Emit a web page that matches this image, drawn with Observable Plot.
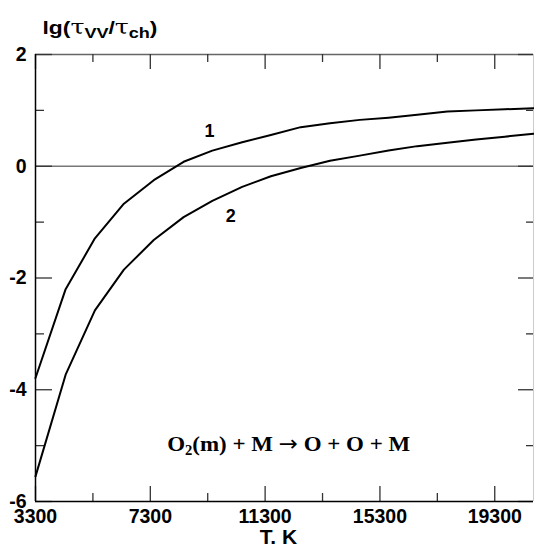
<!DOCTYPE html>
<html><head><meta charset="utf-8">
<script src="https://cdn.jsdelivr.net/npm/d3@7"></script>
<script src="https://cdn.jsdelivr.net/npm/@observablehq/plot@0.6"></script>
<style>
body{margin:0;background:#fff;}
</style></head><body><div id="wrap"></div>
<script>
const temperature = [3300, 4350, 5370, 6380, 7420, 8460, 9460, 10500, 11500, 12540, 13560, 14600, 15600, 16600, 17650, 18650, 19650, 20650];
const curve1 = [-3.79, -2.20, -1.29, -0.67, -0.25, 0.08, 0.28, 0.43, 0.56, 0.70, 0.77, 0.83, 0.87, 0.92, 0.98, 1.00, 1.02, 1.04];
const curve2 = [-5.55, -3.73, -2.58, -1.85, -1.32, -0.91, -0.62, -0.37, -0.18, -0.03, 0.10, 0.19, 0.28, 0.36, 0.42, 0.48, 0.53, 0.58];
const xMajorTicks = [3300, 7300, 11300, 15300, 19300];
const xMinorTicks = [5300, 9300, 13300, 17300];
const yMajorTicks = [-6, -4, -2, 0, 2];
const yMinorTicks = [-5, -3, -1, 1];
const xDomain = [3300, 20650];
const yDomain = [-6, 2];
const curveLabels = [{label: "1", x: 9365, y: 0.635}, {label: "2", x: 10100, y: -0.894}];
const reactionText = "O₂(m) + M → O + O + M";
const reaction = [{text: reactionText, x: 12120, y: -5.10}];
const yTitle = "lg(τVV/τch)";
const xLabel = "T. K";

const data = temperature.flatMap((t, i) => [{t, v: curve1[i], s: "1"}, {t, v: curve2[i], s: "2"}]);
const fmt = d => String(d);
const tickStyle = {stroke: "#333", strokeWidth: 1.3};
const plot = Plot.plot({
  width: 534, height: 548,
  marginLeft: 35, marginRight: 1, marginTop: 54, marginBottom: 47,
  x: {domain: xDomain},
  y: {domain: yDomain},
  style: {fontFamily: '"Liberation Sans", Arial, sans-serif', fontWeight: "bold", background: "#fff", color: "#000"},
  marks: [
    Plot.ruleY([0], {stroke: "#777", strokeWidth: 1.5}),
    Plot.ruleY([yDomain[1]], {stroke: "#666", strokeWidth: 1.3}),
    Plot.ruleX([xDomain[1]], {stroke: "#ccc", strokeWidth: 1}),
    // inward ticks
    Plot.ruleX(xMajorTicks, {x: d => d, y1: yDomain[0], y2: yDomain[0], insetTop: -15, ...tickStyle}),
    Plot.ruleX(xMinorTicks, {x: d => d, y1: yDomain[0], y2: yDomain[0], insetTop: -8, ...tickStyle}),
    Plot.ruleX(xMajorTicks, {x: d => d, y1: yDomain[1], y2: yDomain[1], insetBottom: -15, ...tickStyle}),
    Plot.ruleX(xMinorTicks, {x: d => d, y1: yDomain[1], y2: yDomain[1], insetBottom: -8, ...tickStyle}),
    Plot.ruleY(yMajorTicks, {y: d => d, x1: xDomain[0], x2: xDomain[0], insetRight: -17, ...tickStyle}),
    Plot.ruleY(yMinorTicks, {y: d => d, x1: xDomain[0], x2: xDomain[0], insetRight: -9, ...tickStyle}),
    Plot.ruleY(yMajorTicks, {y: d => d, x1: xDomain[1], x2: xDomain[1], insetLeft: -15, ...tickStyle}),
    Plot.ruleY(yMinorTicks, {y: d => d, x1: xDomain[1], x2: xDomain[1], insetLeft: -7, ...tickStyle}),
    Plot.axisX(xMajorTicks, {anchor: "bottom", tickSize: 0, tickPadding: 8, fontSize: 19.5, tickFormat: fmt, fill: "#000", label: null}),
    Plot.axisY(yMajorTicks, {anchor: "left", tickSize: 0, tickPadding: 9, fontSize: 19.5, tickFormat: fmt, fill: "#000", label: null}),
    Plot.ruleX([xDomain[0]], {stroke: "#000", strokeWidth: 1.5}),
    Plot.ruleY([yDomain[0]], {stroke: "#000", strokeWidth: 1.5}),
    Plot.line(data, {x: "t", y: "v", z: "s", stroke: "#000", strokeWidth: 2}),
    Plot.text(curveLabels, {x: "x", y: "y", text: "label", fontSize: 18, fontWeight: "bold", fill: "#000"}),
    Plot.text(reaction, {x: "x", y: "y", text: "text", lineAnchor: "bottom", fontSize: 22, fontWeight: "bold", fontFamily: '"Liberation Serif", "Times New Roman", serif', fill: "#000"}),
    Plot.text([xLabel], {frameAnchor: "bottom", lineAnchor: "top", dy: 28, dx: -6, fontSize: 21, fontWeight: "bold", fill: "#000"}),
    Plot.text([yTitle], {frameAnchor: "top-left", textAnchor: "start", lineAnchor: "bottom", dx: 7, dy: -21, fontSize: 19, fontWeight: "bold", fill: "#000"})
  ]
});
document.getElementById("wrap").appendChild(plot);

// rich formatting (subscripts, symbol glyphs) of the two formula texts
const NS = "http://www.w3.org/2000/svg";
function rich(textEl, parts) {
  while (textEl.firstChild) textEl.removeChild(textEl.firstChild);
  for (const p of parts) {
    const ts = document.createElementNS(NS, "tspan");
    ts.textContent = p.t;
    if (p.dy) ts.setAttribute("dy", p.dy);
    if (p.size) ts.setAttribute("font-size", p.size);
    if (p.family) ts.setAttribute("font-family", p.family);
    if (p.weight) ts.setAttribute("font-weight", p.weight);
    textEl.appendChild(ts);
  }
}
for (const t of plot.querySelectorAll("text")) {
  if (t.textContent === yTitle) {
    rich(t, [
      {t: "lg("},
      {t: "τ", family: '"DejaVu Serif", serif', weight: "normal", size: 21},
      {t: "VV", dy: 4, size: 15},
      {t: "/", dy: -4},
      {t: "τ", family: '"DejaVu Serif", serif', weight: "normal", size: 21},
      {t: "ch", dy: 4, size: 15},
      {t: ")", dy: -4}
    ]);
    t.setAttribute("textLength", 115);
    t.setAttribute("lengthAdjust", "spacingAndGlyphs");
  } else if (t.textContent === reactionText) {
    rich(t, [
      {t: "O"},
      {t: "2", dy: 4, size: 14},
      {t: "(m) + M ", dy: -4},
      {t: "→", family: '"DejaVu Sans", sans-serif', weight: "normal", size: 22},
      {t: " O + O + M"}
    ]);
    t.setAttribute("textLength", 243);
    t.setAttribute("lengthAdjust", "spacingAndGlyphs");
  }
}
</script>
</body></html>
